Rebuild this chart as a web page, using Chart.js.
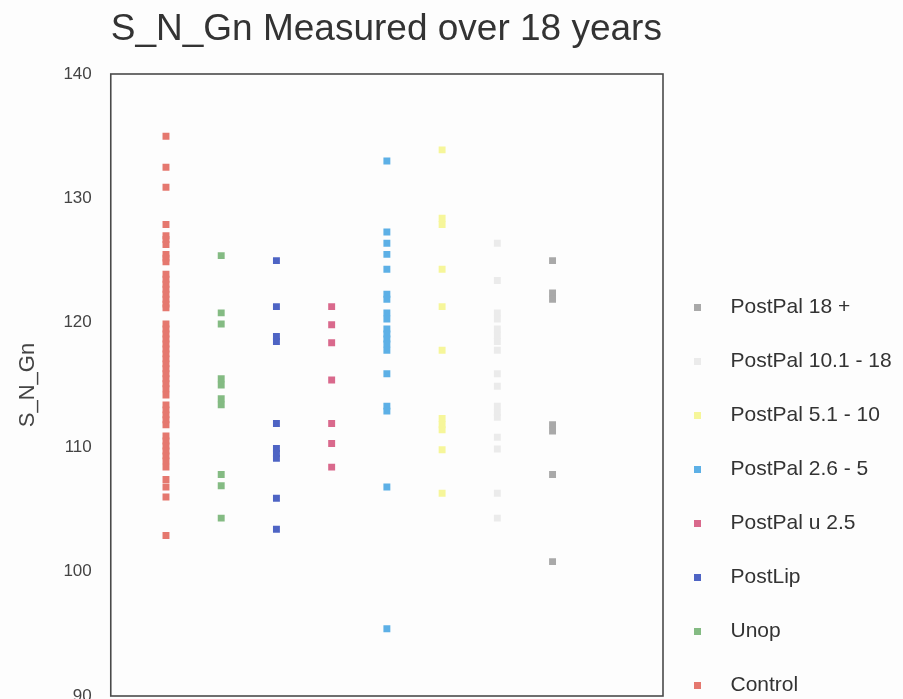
<!DOCTYPE html>
<html>
<head>
<meta charset="utf-8">
<script src="https://cdn.jsdelivr.net/npm/chart.js@4/dist/chart.umd.min.js"></script>
<style>
  html, body { margin: 0; padding: 0; background: #fdfdfd; overflow: hidden; }
  #wrap { position: relative; width: 903px; height: 699px; overflow: hidden; }
  canvas { display: block; }
</style>
</head>
<body>
<div id="wrap"><canvas id="c" width="903" height="729"></canvas></div>
<script>
// ---- data ----
const categories = ['Control', 'Unop', 'PostLip', 'PostPal u 2.5', 'PostPal 2.6 - 5', 'PostPal 5.1 - 10', 'PostPal 10.1 - 18', 'PostPal 18 +'];

const control = [135.0, 132.5, 130.9, 127.9, 127.0, 126.7, 126.3, 125.5, 125.2, 124.9,
  123.9, 123.5, 123.1, 122.7, 122.3, 121.9, 121.5, 121.2,
  119.9, 119.5, 119.1, 118.7, 118.3, 117.9, 117.5, 117.1, 116.7, 116.3, 115.9, 115.5, 115.1, 114.7, 114.2,
  113.4, 113.0, 112.6, 112.2, 111.8,
  110.9, 110.5, 110.1, 109.7, 109.3, 108.9, 108.4,
  107.4, 106.8, 106.0, 102.9];
const unop = [125.4, 120.8, 119.9, 115.5, 115.0, 113.9, 113.4, 107.8, 106.9, 104.3];
const postLip = [125.0, 121.3, 118.9, 118.5, 111.9, 109.9, 109.5, 109.1, 105.9, 103.4];
const postPalU25 = [121.3, 119.85, 118.4, 115.4, 111.9, 110.3, 108.4];
const postPal26to5 = [133.0, 127.3, 126.4, 125.5, 124.3, 122.3, 121.9, 120.8, 120.3, 119.5, 119.1, 118.7, 118.3, 117.8, 115.9, 113.3, 112.9, 106.8, 95.4];
const postPal51to10 = [133.9, 128.4, 127.9, 124.3, 121.3, 117.8, 112.3, 111.8, 111.4, 109.8, 106.3];
const postPal101to18 = [126.4, 123.4, 120.8, 120.3, 119.5, 119.0, 118.5, 117.8, 115.9, 114.9, 113.3, 112.8, 112.4, 110.8, 109.85, 106.3, 104.3];
const postPal18plus = [125.0, 122.4, 121.9, 111.8, 111.3, 107.8, 100.8];

const seriesValues = [control, unop, postLip, postPalU25, postPal26to5, postPal51to10, postPal101to18, postPal18plus];
const yTickLabels = [90, 100, 110, 120, 130, 140];

// ---- styles ----
const seriesColors = ['#e5786f', '#84bb83', '#4e64c4', '#d9698c', '#5db0e6', '#f6f69a', '#ebebeb', '#a9a9a9'];

function legendMarker(color) {
  const cv = document.createElement('canvas');
  cv.width = 28; cv.height = 7;
  const g = cv.getContext('2d');
  g.fillStyle = color;
  g.fillRect(0, 0, 7, 7);
  return cv;
}

const framePlugin = {
  id: 'frame',
  beforeDatasetsDraw(chart) {
    const a = chart.chartArea, ctx = chart.ctx;
    ctx.save();
    ctx.strokeStyle = '#4a4a4a';
    ctx.lineWidth = 1.6;
    ctx.strokeRect(a.left, a.top, a.right - a.left, a.bottom - a.top);
    ctx.restore();
  }
};

const datasets = categories.map((name, i) => ({
  label: name,
  data: seriesValues[i].map(v => ({ x: i + 1, y: v })),
  backgroundColor: seriesColors[i],
  borderColor: seriesColors[i],
  borderWidth: 0,
  pointStyle: 'rect',
  pointRadius: 4.9,
  pointHoverRadius: 4.9,
  showLine: false
}));

new Chart(document.getElementById('c'), {
  type: 'scatter',
  data: { datasets },
  plugins: [framePlugin],
  options: {
    responsive: false,
    animation: false,
    layout: { padding: { left: 7, right: 12, top: 0, bottom: 0 } },
    scales: {
      x: {
        type: 'linear', min: 0, max: 10,
        display: true,
        grid: { display: false, drawTicks: false },
        border: { display: false },
        ticks: { display: false },
        afterFit(scale) { scale.height = 33; }
      },
      y: {
        type: 'linear', min: yTickLabels[0], max: yTickLabels[yTickLabels.length - 1],
        afterBuildTicks(scale) { scale.ticks = yTickLabels.map(v => ({ value: v })); },
        grid: { display: false, drawTicks: false },
        border: { display: false },
        ticks: {
          padding: 19,
          color: '#444',
          font: { family: '"Liberation Sans", Arial, sans-serif', size: 17 }
        },
        title: {
          display: true,
          text: 'S_N_Gn',
          color: '#444',
          font: { family: '"Liberation Sans", Arial, sans-serif', size: 22 },
          padding: { top: 8, bottom: 3 }
        }
      }
    },
    plugins: {
      title: {
        display: true,
        text: 'S_N_Gn Measured over 18 years',
        align: 'start',
        fullSize: false,
        color: '#333',
        font: { family: '"Liberation Sans", Arial, sans-serif', size: 37, weight: 'normal' },
        padding: { top: 8, bottom: 21.6 }
      },
      legend: {
        position: 'right',
        align: 'end',
        reverse: true,
        maxWidth: 228,
        labels: {
          usePointStyle: true,
          pointStyleWidth: 24,
          padding: 33,
          color: '#333',
          font: { family: '"Liberation Sans", Arial, sans-serif', size: 21 },
          generateLabels(chart) {
            const items = Chart.defaults.plugins.legend.labels.generateLabels(chart);
            items.forEach(it => { it.pointStyle = legendMarker(seriesColors[it.datasetIndex]); });
            return items;
          }
        }
      },
      tooltip: { enabled: false }
    }
  }
});
</script>
</body>
</html>
